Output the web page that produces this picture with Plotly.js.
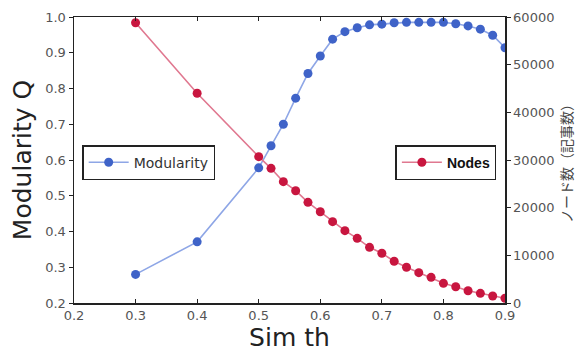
<!DOCTYPE html>
<html><head><meta charset="utf-8">
<script src="https://cdn.plot.ly/plotly-3.0.1.min.js"></script>
<style>body{margin:0;background:#fff}#c{width:578px;height:352px}</style>
</head><body><div id="c"></div>
<script>
const simTh = [0.3,0.4,0.5,0.52,0.54,0.56,0.58,0.6,0.62,0.64,0.66,0.68,0.7,0.72,0.74,0.76,0.78,0.8,0.82,0.84,0.86,0.88,0.9];
const modularity = [0.280,0.371,0.578,0.640,0.700,0.773,0.842,0.891,0.938,0.959,0.970,0.978,0.980,0.984,0.985,0.985,0.985,0.985,0.981,0.975,0.966,0.949,0.914];
const nodes = [58800,44000,30700,28250,25450,23560,21120,19150,17060,15170,13570,11680,10430,8770,7490,6360,5390,4130,3420,2580,2030,1470,990];
const xTicks = [0.2,0.3,0.4,0.5,0.6,0.7,0.8,0.9];

const tickFont = {family:'DejaVu Sans, sans-serif', size:13, color:'#555'};
const traces = [
  {x:simTh, y:modularity, name:'Modularity', mode:'lines+markers', yaxis:'y', legend:'legend',
   line:{color:'#8ea6e6', width:1.6}, marker:{color:'#3f63c8', size:9}},
  {x:simTh, y:nodes, name:'Nodes', mode:'lines+markers', yaxis:'y2', legend:'legend2',
   line:{color:'#e07890', width:1.6}, marker:{color:'#c8163f', size:9}}
];
const layout = {
  width:578, height:352,
  margin:{l:74, r:73, t:17, b:49},
  paper_bgcolor:'#fff', plot_bgcolor:'#fff',
  showlegend:true,
  xaxis:{range:[0.2,0.9], tickvals:xTicks, tickformat:'.1f', showgrid:false, zeroline:false,
    showline:true, linecolor:'#222', linewidth:1.5, mirror:'ticks', ticks:'inside', ticklen:4, tickcolor:'#222',
    tickfont:tickFont, title:{text:'Sim th', font:{family:'DejaVu Sans, sans-serif', size:25, color:'#222'}, standoff:4}},
  yaxis:{range:[0.2,1.0], dtick:0.1, tickformat:'.1f', showgrid:false, zeroline:false,
    showline:true, linecolor:'#222', linewidth:1.5, ticks:'outside', ticklen:4, tickcolor:'#222',
    tickfont:tickFont, title:{text:'Modularity Q', font:{family:'DejaVu Sans, sans-serif', size:25, color:'#222'}, standoff:6}},
  yaxis2:{range:[0,60000], dtick:10000, tickformat:'d', overlaying:'y', side:'right', showgrid:false, zeroline:false,
    showline:true, linecolor:'#222', linewidth:1.5, ticks:'outside', ticklen:4, tickcolor:'#222',
    tickfont:tickFont, title:{text:'ノード数（記事数）', font:{family:'Noto Sans CJK JP, sans-serif', size:14, color:'#444'}, standoff:8}},
  legend:{x:0.019, y:0.552, xanchor:'left', yanchor:'top', bgcolor:'#fff', bordercolor:'#222', borderwidth:1.5,
    font:{family:'DejaVu Sans, sans-serif', size:14, color:'#333'}, itemwidth:40},
  legend2:{x:0.98, y:0.552, xanchor:'right', yanchor:'top', bgcolor:'#fff', bordercolor:'#222', borderwidth:1.5,
    font:{family:'Liberation Sans, sans-serif', size:14, color:'#111', weight:'bold'}, itemwidth:40}
};
Plotly.newPlot('c', traces, layout, {displayModeBar:false, staticPlot:true});
</script></body></html>
